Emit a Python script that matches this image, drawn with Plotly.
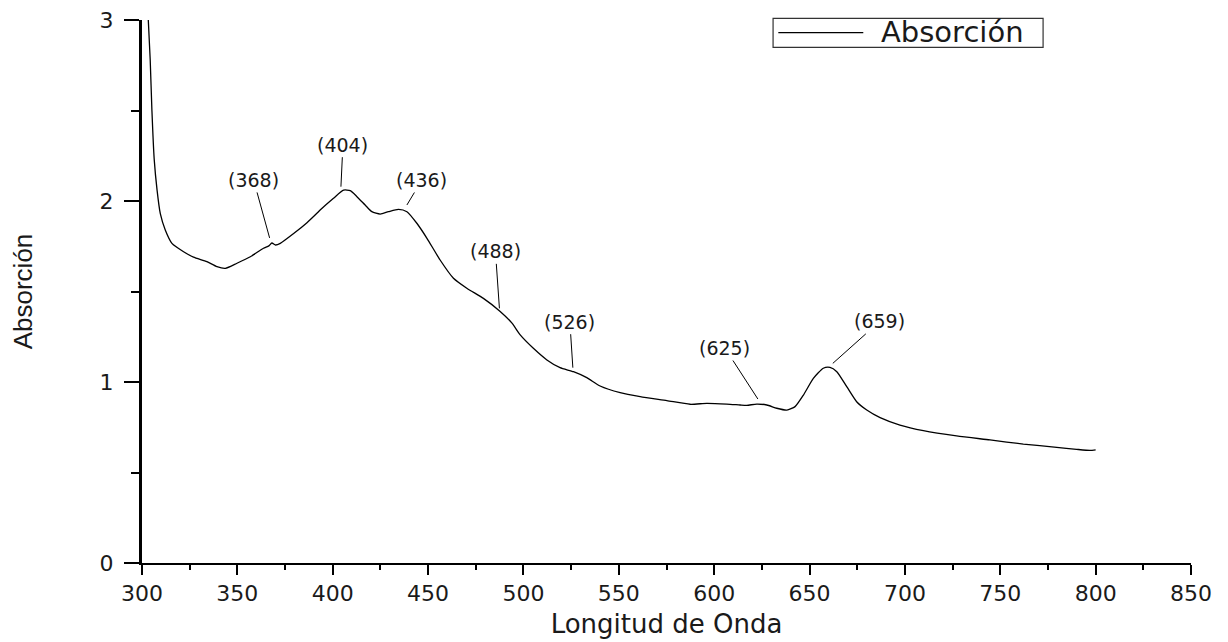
import plotly.graph_objects as go

# ---- data ----
wavelength = [303.3, 304.3, 305.2, 306.4, 307.9, 309.6, 312.2, 315.7, 321.8, 327.0,
              334.0, 339.3, 343.7, 349.8, 356.8, 363.7, 366.5, 368.1, 370.0, 372.5,
              379.5, 386.5, 391.7, 393.4, 400.4, 405.7, 409.2, 412.7, 417.0, 420.5,
              424.9, 429.2, 434.5, 438.9, 444.1, 449.4, 456.3, 463.3, 470.3, 479.0,
              487.8, 494.0, 498.3, 505.2, 512.3, 519.2, 526.2, 533.2, 540.2, 550.7,
              561.2, 575.2, 587.4, 596.1, 606.6, 613.6, 617.1, 622.3, 627.6, 632.8,
              638.1, 642.4, 646.8, 652.0, 657.2, 660.7, 664.3, 669.5, 674.7, 680.0,
              687.0, 697.4, 709.7, 727.1, 744.6, 762.1, 779.6, 790.0, 797.0, 800.0]
absorcion = [3.00, 2.78, 2.50, 2.23, 2.06, 1.93, 1.84, 1.766, 1.72, 1.69,
             1.665, 1.637, 1.628, 1.656, 1.692, 1.739, 1.752, 1.768, 1.757, 1.766,
             1.82, 1.88, 1.932, 1.95, 2.015, 2.06, 2.057, 2.024, 1.978, 1.941,
             1.928, 1.941, 1.954, 1.941, 1.877, 1.794, 1.674, 1.573, 1.518, 1.462,
             1.39, 1.325, 1.26, 1.186, 1.122, 1.079, 1.057, 1.024, 0.978, 0.941,
             0.919, 0.897, 0.877, 0.882, 0.878, 0.873, 0.871, 0.878, 0.873, 0.855,
             0.845, 0.864, 0.928, 1.02, 1.076, 1.081, 1.057, 0.974, 0.891, 0.845,
             0.803, 0.762, 0.731, 0.702, 0.680, 0.657, 0.639, 0.628, 0.622, 0.625]

# peak labels: text, arrow tip (wavelength, absorbance), text offset in px
peak_labels = ["(368)", "(404)", "(436)", "(488)", "(526)", "(625)", "(659)"]
peak_x = [366.9, 404.3, 438.9, 487.4, 525.9, 622.9, 662.2]
peak_y = [1.796, 2.079, 1.978, 1.407, 1.079, 0.906, 1.103]
label_dx = [-16, 2, 15, -4, -3, -33, 47]
label_dy = [-58, -42, -25, -57, -46, -51, -42]

x_ticks = [300, 350, 400, 450, 500, 550, 600, 650, 700, 750, 800, 850]
y_ticks = [0, 1, 2, 3]

series_name = "Absorción"
x_title = "Longitud de Onda"
y_title = "Absorción"

fig = go.Figure()
fig.add_trace(go.Scatter(x=wavelength, y=absorcion, mode="lines", name=series_name,
                         line=dict(color="black", width=1.3, shape="spline", smoothing=0.6),
                         showlegend=False))

TXT = "#1a1a1a"
for t, px, py, dx, dy in zip(peak_labels, peak_x, peak_y, label_dx, label_dy):
    fig.add_annotation(x=px, y=py, text=t, showarrow=True, arrowhead=0, arrowwidth=1,
                       arrowcolor="black", ax=dx, ay=dy, standoff=0,
                       font=dict(family="DejaVu Sans", size=19, color=TXT))

# manual legend box (long line sample like the original)
fig.add_shape(type="rect", xref="paper", yref="paper", x0=0.6016, x1=0.859, y0=0.9497, y1=1.003,
              line=dict(color="#333", width=1.2), fillcolor="white")
fig.add_shape(type="line", xref="paper", yref="paper", x0=0.6066, x1=0.6876, y0=0.9767, y1=0.9767,
              line=dict(color="black", width=1.2))
fig.add_annotation(xref="paper", yref="paper", x=0.773, y=0.977, text=series_name,
                   showarrow=False, xanchor="center", yanchor="middle",
                   font=dict(family="DejaVu Sans", size=29, color=TXT))

fig.update_xaxes(range=[300, 850], tickvals=x_ticks, showgrid=False, zeroline=False,
                 showline=True, linecolor="black", linewidth=2, automargin=False,
                 ticks="outside", ticklen=10, tickwidth=2, tickcolor="black",
                 ticklabeloverflow="allow",
                 minor=dict(ticks="outside", ticklen=5, tickwidth=2, tickcolor="black", dtick=25),
                 tickfont=dict(family="DejaVu Sans", size=22, color=TXT),
                 title=dict(text=x_title, standoff=9,
                            font=dict(family="DejaVu Sans", size=26, color=TXT)))
fig.update_yaxes(range=[0, 3], tickvals=y_ticks, showgrid=False, zeroline=False,
                 showline=True, linecolor="black", linewidth=3, automargin=False,
                 ticks="outside", ticklen=15, tickwidth=2, tickcolor="black",
                 ticklabelstandoff=6, ticklabeloverflow="allow",
                 minor=dict(ticks="outside", ticklen=8, tickwidth=2, tickcolor="black", dtick=0.5),
                 tickfont=dict(family="DejaVu Sans", size=22, color=TXT),
                 title=dict(text=y_title, standoff=70,
                            font=dict(family="Liberation Sans", size=26, color=TXT)))

# page body has an 8 px margin: margins compensate so the plot area sits where the reference's does
fig.update_layout(width=1228, height=642, plot_bgcolor="white", paper_bgcolor="white",
                  margin=dict(l=134, r=45, t=12, b=87), showlegend=False)

fig.write_html("out.html")
